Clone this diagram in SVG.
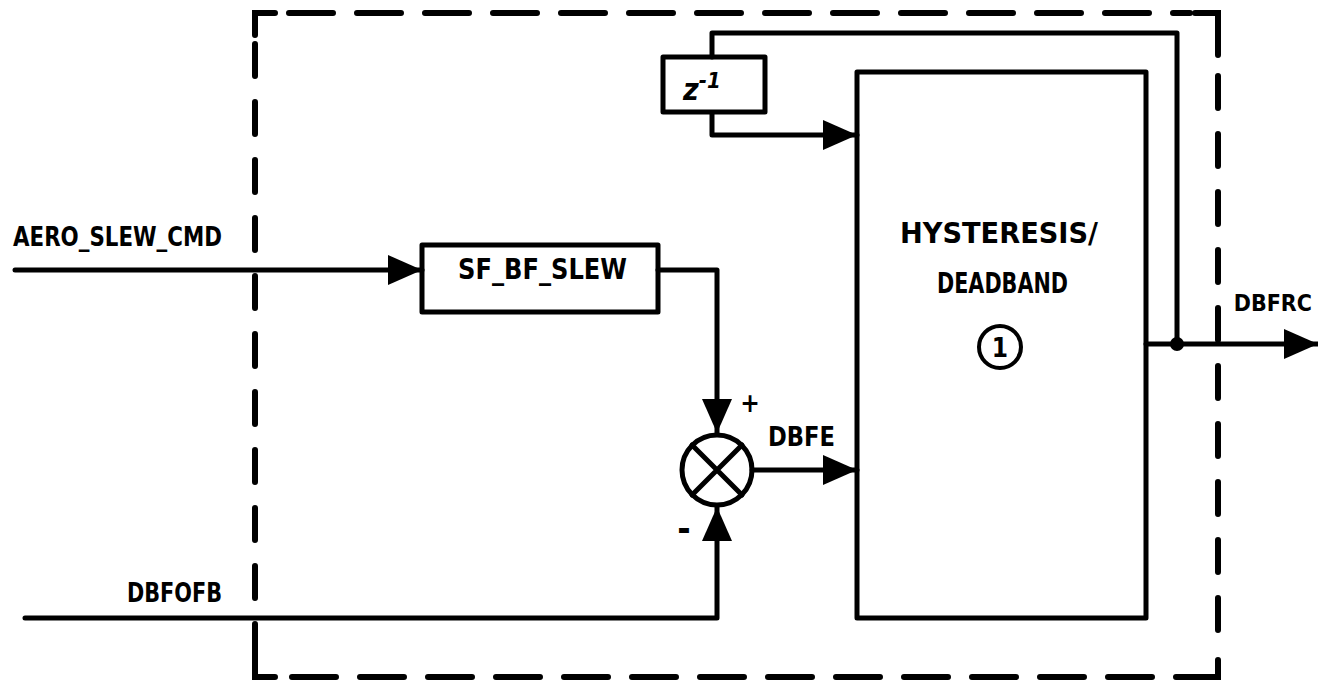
<svg xmlns="http://www.w3.org/2000/svg" width="1318" height="685" viewBox="0 0 1318 685">
<style>
.box{fill:none;stroke:#000;stroke-width:5;stroke-linejoin:round}
.ln{fill:none;stroke:#000;stroke-width:5;stroke-linejoin:round;stroke-linecap:round}
.dash{fill:none;stroke:#000;stroke-width:6;stroke-linecap:round}
.t{font-family:"DejaVu Sans Condensed","DejaVu Sans",sans-serif;font-weight:bold;fill:#000}
</style>
<defs>
<marker id="ah" markerUnits="userSpaceOnUse" markerWidth="36" markerHeight="32" refX="34" refY="15" orient="auto">
<path d="M0,0 L34,15 L0,30 Z" fill="#000"/>
</marker>
</defs>
<rect width="1318" height="685" fill="#fff"/>
<g id="border">
<path class="dash" d="M255,35 V13 H275"/>
<path class="dash" d="M289,13 H1190" stroke-dasharray="44 24"/>
<path class="dash" d="M1195,13 H1218 V55"/>
<path class="dash" d="M1218,76 V655" stroke-dasharray="32 26"/>
<path class="dash" d="M255,44 V655" stroke-dasharray="32 26"/>
<path class="dash" d="M255,655 V677 H275"/>
<path class="dash" d="M292,677 H1200" stroke-dasharray="44 24"/>
<path class="dash" d="M1200,677 H1218 V660"/>
</g>
<g id="connectors">
<path class="ln" d="M15,270 H422" marker-end="url(#ah)"/>
<path class="ln" d="M658,270 H717 V433" marker-end="url(#ah)"/>
<path class="ln" d="M25,618 H717 V507" marker-end="url(#ah)"/>
<path class="ln" d="M752,470 H857" marker-end="url(#ah)"/>
<path class="ln" d="M712,113 V135 H857" marker-end="url(#ah)"/>
<path class="ln" d="M712,57 V33 H1177 V344"/>
<path class="ln" d="M1146,344 H1318" marker-end="url(#ah)"/>
<circle cx="1177" cy="344" r="7" fill="#000"/>
</g>
<g id="zinv">
<rect class="box" x="663" y="57" width="102" height="55"/>
<text class="t" x="683" y="100" font-size="30" font-family="Liberation Serif,serif" font-style="italic">z<tspan font-size="22" dy="-12">-1</tspan></text>
</g>
<g id="sfbf">
<rect class="box" x="422" y="245" width="236" height="67"/>
<text class="t" x="458" y="279" font-size="28" textLength="169" lengthAdjust="spacingAndGlyphs">SF_BF_SLEW</text>
</g>
<g id="sum">
<circle class="box" cx="717" cy="470" r="35"/>
<path class="ln" d="M692,445 L742,495 M742,445 L692,495"/>
</g>
<g id="hyst">
<rect class="box" x="857" y="72" width="289" height="546"/>
<text class="t" x="900" y="243" font-size="28" textLength="198" lengthAdjust="spacingAndGlyphs">HYSTERESIS/</text>
<text class="t" x="937" y="293" font-size="28" textLength="131" lengthAdjust="spacingAndGlyphs">DEADBAND</text>
<circle cx="1000" cy="347" r="21" fill="none" stroke="#000" stroke-width="4"/>
<text class="t" x="1000" y="357" font-size="26" text-anchor="middle">1</text>
</g>
<g id="labels">
<text class="t" x="13" y="246" font-size="26" textLength="209" lengthAdjust="spacingAndGlyphs">AERO_SLEW_CMD</text>
<text class="t" x="127" y="602" font-size="26" textLength="95" lengthAdjust="spacingAndGlyphs">DBFOFB</text>
<text class="t" x="768" y="446" font-size="27" textLength="67" lengthAdjust="spacingAndGlyphs">DBFE</text>
<text class="t" x="1312" y="311" font-size="23" text-anchor="end">DBFRC</text>
<text class="t" x="750" y="412" font-size="26" text-anchor="middle">+</text>
<text class="t" x="684" y="541" font-size="36" text-anchor="middle">-</text>
</g>
</svg>
